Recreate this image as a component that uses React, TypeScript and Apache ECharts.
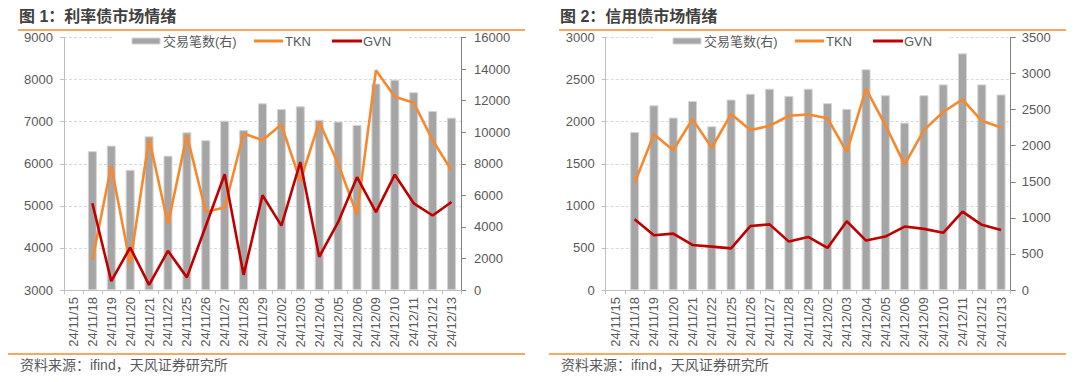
import React, { useEffect, useRef } from "react";
import * as echarts from "echarts";

const categories = [
  "24/11/15", "24/11/18", "24/11/19", "24/11/20", "24/11/21", "24/11/22", "24/11/25",
  "24/11/26", "24/11/27", "24/11/28", "24/11/29", "24/12/02", "24/12/03", "24/12/04",
  "24/12/05", "24/12/06", "24/12/09", "24/12/10", "24/12/11", "24/12/12", "24/12/13",
];

// 图1 利率债
const rateCount = [null, 8800, 9150, 7620, 9740, 8510, 9990, 9490, 10730, 10140, 11830, 11470, 11640, 10790, 10670, 10460, 13080, 13330, 12530, 11340, 10920];
const rateTKN = [null, 3710, 5950, 3620, 6600, 4570, 6680, 4860, 4960, 6720, 6560, 6930, 5590, 6990, 6000, 4790, 8220, 7590, 7450, 6560, 5840];
const rateGVN = [null, 5060, 3210, 4010, 3120, 3930, 3300, 4520, 5750, 3360, 5250, 4530, 6040, 3790, 4610, 5680, 4850, 5740, 5060, 4770, 5090];

// 图2 信用债
const creditCount = [null, 2190, 2560, 2390, 2620, 2270, 2640, 2720, 2790, 2690, 2790, 2590, 2510, 3060, 2700, 2320, 2700, 2850, 3280, 2850, 2710];
const creditTKN = [null, 1270, 1850, 1660, 2030, 1690, 2090, 1900, 1950, 2070, 2085, 2040, 1640, 2390, 1960, 1490, 1900, 2115, 2265, 2010, 1930];
const creditGVN = [null, 840, 650, 670, 535, 515, 495, 760, 780, 575, 630, 500, 817, 587, 635, 754, 726, 679, 932, 774, 714];

const legendNames = ["交易笔数(右)", "TKN", "GVN"];
const titles = ["图 1：利率债市场情绪", "图 2：信用债市场情绪"];
const sourceText = "资料来源：ifind，天风证券研究所";

const FONT = '"Liberation Sans", Arial, "Noto Sans CJK SC", sans-serif';
const LABEL = "#595959";
const ORANGE = "#f7882c";
const RED = "#c00000";
const BAR = "#a5a5a5";
const BAR_EDGE = "#d4d4d4";

export default function App() {
  const ref = useRef<HTMLDivElement>(null);

  useEffect(() => {
    if (!ref.current) return;
    const chart = echarts.init(ref.current, undefined, { renderer: "svg" });

    const grids = [
      { left: 64, top: 37.5, width: 397, height: 252.5 },
      { left: 605.7, top: 37.5, width: 405, height: 252.5 },
    ];

    const plain = (v: number) => String(v);

    const xAxis = grids.map((_, i) => ({
      type: "category",
      gridIndex: i,
      data: categories,
      boundaryGap: true,
      axisLine: { show: true, lineStyle: { color: "#bfbfbf", width: 1 } },
      axisTick: { show: true, length: 4, interval: 0, lineStyle: { color: "#bfbfbf" } },
      axisLabel: {
        interval: 0,
        rotate: 90,
        margin: 7,
        color: LABEL,
        fontSize: 13,
        fontFamily: FONT,
      },
    }));

    const leftAxis = (grid: number, min: number, max: number, interval: number) => ({
      type: "value",
      gridIndex: grid,
      position: "left",
      min,
      max,
      interval,
      axisLine: { show: true, lineStyle: { color: "#bfbfbf" } },
      axisTick: { show: true, length: 4, lineStyle: { color: "#bfbfbf" } },
      axisLabel: { color: LABEL, fontSize: 13, margin: 11, fontFamily: FONT, formatter: plain },
      splitLine: { show: true, lineStyle: { color: "#d9d9d9", type: [3, 2], width: 1 } },
    });
    const rightAxis = (grid: number, min: number, max: number, interval: number, margin: number) => ({
      type: "value",
      gridIndex: grid,
      position: "right",
      min,
      max,
      interval,
      axisLine: { show: true, lineStyle: { color: "#7f7f7f" } },
      axisTick: { show: true, length: 5, lineStyle: { color: "#7f7f7f" } },
      axisLabel: { color: LABEL, fontSize: 13, margin, fontFamily: FONT, formatter: plain },
      splitLine: { show: false },
    });

    const yAxis = [
      leftAxis(0, 3000, 9000, 1000),
      rightAxis(0, 0, 16000, 2000, 13),
      leftAxis(1, 0, 3000, 500),
      rightAxis(1, 0, 3500, 500, 11),
    ];

    const barSeries = (x: number, y: number, data: (number | null)[]) => ({
      name: legendNames[0],
      type: "bar",
      xAxisIndex: x,
      yAxisIndex: y,
      data,
      barWidth: 9,
      itemStyle: { color: BAR, borderColor: BAR_EDGE, borderWidth: 1 },
      z: 1,
    });
    const lineSeries = (name: string, color: string, x: number, y: number, data: (number | null)[]) => ({
      name,
      type: "line",
      xAxisIndex: x,
      yAxisIndex: y,
      data,
      symbol: "none",
      showSymbol: false,
      lineStyle: { color, width: 2.6 },
      itemStyle: { color },
      z: 3,
    });

    const series = [
      barSeries(0, 1, rateCount),
      lineSeries(legendNames[1], ORANGE, 0, 0, rateTKN),
      lineSeries(legendNames[2], RED, 0, 0, rateGVN),
      barSeries(1, 3, creditCount),
      lineSeries(legendNames[1], ORANGE, 1, 2, creditTKN),
      lineSeries(legendNames[2], RED, 1, 2, creditGVN),
    ];

    const panelX = [0, 541];
    const graphic: any[] = [];
    panelX.forEach((dx, i) => {
      // title
      graphic.push({
        type: "text",
        left: 19 + dx,
        top: 8,
        style: { text: titles[i], fill: "#404040", font: `bold 16px ${FONT}` },
      });
      // rules
      graphic.push({
        type: "line",
        shape: { x1: 18 + dx, y1: 30, x2: 525 + dx, y2: 30 },
        style: { stroke: ORANGE, lineWidth: 1.5 },
      });
      graphic.push({
        type: "line",
        shape: { x1: 8 + dx, y1: 354, x2: 525 + dx, y2: 354 },
        style: { stroke: ORANGE, lineWidth: 1.5 },
      });
      // source
      graphic.push({
        type: "text",
        left: 20 + dx,
        top: 358,
        style: { text: sourceText, fill: LABEL, font: `14px ${FONT}` },
      });
      // legend
      const cy = 41;
      graphic.push({
        type: "rect",
        z: 20,
        shape: { x: 112 + dx, y: 32, width: 295, height: 18 },
        style: { fill: "#ffffff" },
      });
      graphic.push({
        type: "rect",
        z: 21,
        shape: { x: 132 + dx, y: cy - 3, width: 28, height: 6 },
        style: { fill: BAR, stroke: BAR_EDGE, lineWidth: 1 },
      });
      graphic.push({
        type: "line",
        z: 21,
        shape: { x1: 254 + dx, y1: cy, x2: 283 + dx, y2: cy },
        style: { stroke: ORANGE, lineWidth: 3 },
      });
      graphic.push({
        type: "line",
        z: 21,
        shape: { x1: 332 + dx, y1: cy, x2: 362 + dx, y2: cy },
        style: { stroke: RED, lineWidth: 3 },
      });
      const legendTextX = [163, 285, 363];
      legendNames.forEach((n, k) => {
        graphic.push({
          type: "text",
          z: 21,
          style: {
            text: n,
            x: legendTextX[k] + dx,
            y: cy,
            verticalAlign: "middle",
            fill: LABEL,
            font: `13px ${FONT}`,
          },
        });
      });
    });

    chart.setOption({
      animation: false,
      backgroundColor: "#ffffff",
      grid: grids,
      xAxis,
      yAxis,
      series,
      graphic,
    });

    return () => chart.dispose();
  }, []);

  return (
    <div
      ref={ref}
      style={{ position: "absolute", left: 0, top: 0, width: 1080, height: 382 }}
    />
  );
}
